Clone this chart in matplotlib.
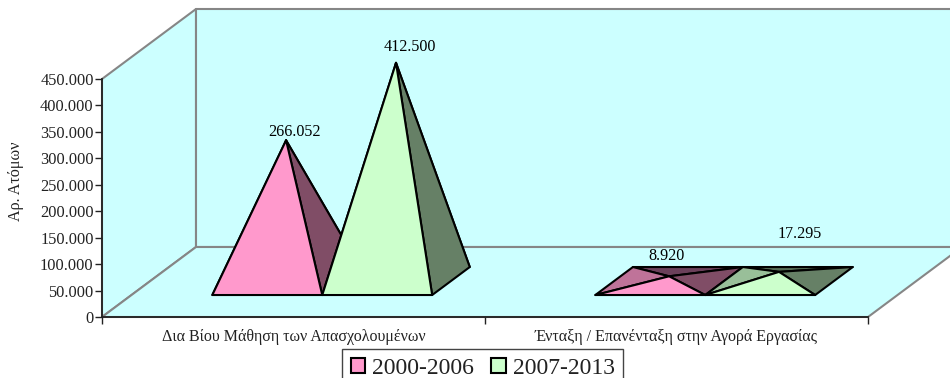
import matplotlib
matplotlib.use('Agg')
import matplotlib.pyplot as plt
from matplotlib.patches import Patch, Polygon
from matplotlib.ticker import FuncFormatter

plt.rcParams['font.family'] = ['Liberation Serif', 'DejaVu Serif']

categories = ['Δια Βίου Μάθηση των Απασχολουμένων', 'Ένταξη / Επανένταξη στην Αγορά Εργασίας']
periods = ['2000-2006', '2007-2013']
values_2000 = [266052, 8920]
values_2007 = [412500, 17295]
value_labels_2000 = ['266.052', '8.920']
value_labels_2007 = ['412.500', '17.295']
y_ticks = [0, 50000, 100000, 150000, 200000, 250000, 300000, 350000, 400000, 450000]

W, H = 950, 378
YMAX = 450000
# front plane of the box in pixels, depth shift is 94 right, 70 up
left, right, bottom, top = 102, 868, 317, 79
dx_depth = 94 / (right - left) * 2
dy_depth = 70 / (bottom - top) * YMAX

wall = '#CCFFFF'
wall_edge = '#868686'


def pt(x, y, d=0.0):
    return (x + d * dx_depth, y + d * dy_depth)


fig = plt.figure(figsize=(W / 100, H / 100), dpi=100)
ax = fig.add_axes([left / W, 1 - bottom / H, (right - left) / W, (bottom - top) / H])
ax.set_xlim(0, 2)
ax.set_ylim(0, YMAX)
ax.patch.set_visible(False)


def poly(points, fc, ec='black', lw=1.5, z=3):
    ax.add_patch(Polygon(points, closed=True, facecolor=fc, edgecolor=ec, linewidth=lw,
                         joinstyle='round', clip_on=False, zorder=z))


# walls of the 3d box
poly([pt(0, 0), pt(0, YMAX), pt(0, YMAX, 1), pt(0, 0, 1)], wall, wall_edge, 1.5, 1)
poly([pt(0, 0, 1), pt(0, YMAX, 1), pt(2, YMAX, 1), pt(2, 0, 1)], wall, wall_edge, 1.5, 1)
poly([pt(0, 0), pt(2, 0), pt(2, 0, 1), pt(0, 0, 1)], wall, wall_edge, 1.5, 1)

# pyramids
d_front, d_back = 0.314, 0.714
d_mid = (d_front + d_back) / 2
bar_w = 0.287
gap = (1 - 2 * bar_w) / 2 - 0.002


def pyramid(x0, v, front, side, lit, back):
    x1 = x0 + bar_w
    fl, fr = pt(x0, 0, d_front), pt(x1, 0, d_front)
    bl, br = pt(x0, 0, d_back), pt(x1, 0, d_back)
    apex = pt(x0 + bar_w / 2, v, d_mid)
    poly([bl, br, apex], back)
    poly([fl, bl, apex], lit)
    poly([fr, br, apex], side)
    poly([fl, fr, apex], front)
    return apex


series = [
    (values_2000, value_labels_2000, 0, ('#FF99CC', '#804D66', '#BF7399', '#6B405A')),
    (values_2007, value_labels_2007, 1, ('#CCFFCC', '#668066', '#99BF99', '#556B55')),
]
# label shift from the pyramid tip in pixels, these were moved by hand in the original
label_shift = {(0, 0): (8, 8), (0, 1): (-3, 20), (1, 0): (14, 16), (1, 1): (21, 38)}

for vals, labels, s, cols in series:
    for c in [0, 1]:
        pyramid(c + gap + s * bar_w, vals[c], *cols)

for vals, labels, s, cols in series:
    for c in [0, 1]:
        tip = pt(c + gap + s * bar_w + bar_w / 2, vals[c], d_mid)
        ax.annotate(labels[c], xy=tip, xytext=label_shift[(s, c)], textcoords='offset pixels',
                    ha='center', va='center', fontsize=11.6, color='black',
                    annotation_clip=False, zorder=6)

# axes
for name in ['top', 'right']:
    ax.spines[name].set_visible(False)
for name in ['left', 'bottom']:
    ax.spines[name].set_color('#222222')
    ax.spines[name].set_linewidth(1.3)
    ax.spines[name].set_zorder(4)

ax.set_yticks(y_ticks)
ax.yaxis.set_major_formatter(FuncFormatter(lambda v, p: f'{int(v):,}'.replace(',', '.')))
ax.tick_params(axis='y', length=5, width=1, color='#222222', labelsize=11.8, pad=1, labelcolor='#222222')
ax.set_xticks([0, 1, 2])
ax.set_xticklabels([])
ax.tick_params(axis='x', length=5, width=1, color='#222222')
for i, name in enumerate(categories):
    ax.text(i + 0.5, -0.083, name, transform=ax.get_xaxis_transform(), ha='center', va='center',
            fontsize=11.5, color='#222222')

fig.text(16 / W, 1 - 181 / H, 'Αρ. Ατόμων', rotation=90, ha='center', va='center',
         fontsize=11.6, color='#222222')

handles = [Patch(facecolor='#FF99CC', edgecolor='black', linewidth=1.5, label=periods[0]),
           Patch(facecolor='#CCFFCC', edgecolor='black', linewidth=1.5, label=periods[1])]
leg = fig.legend(handles=handles, loc='upper left', bbox_to_anchor=(342 / W, 1 - 349 / H), ncol=2,
                 fontsize=17, frameon=True, fancybox=False, edgecolor='#444444', framealpha=1,
                 handlelength=0.62, handleheight=0.62, handletextpad=0.28, columnspacing=0.75,
                 borderpad=0.36, borderaxespad=0, labelcolor='#222222')
leg.get_frame().set_linewidth(1)

fig.savefig('out.png', dpi=100)
